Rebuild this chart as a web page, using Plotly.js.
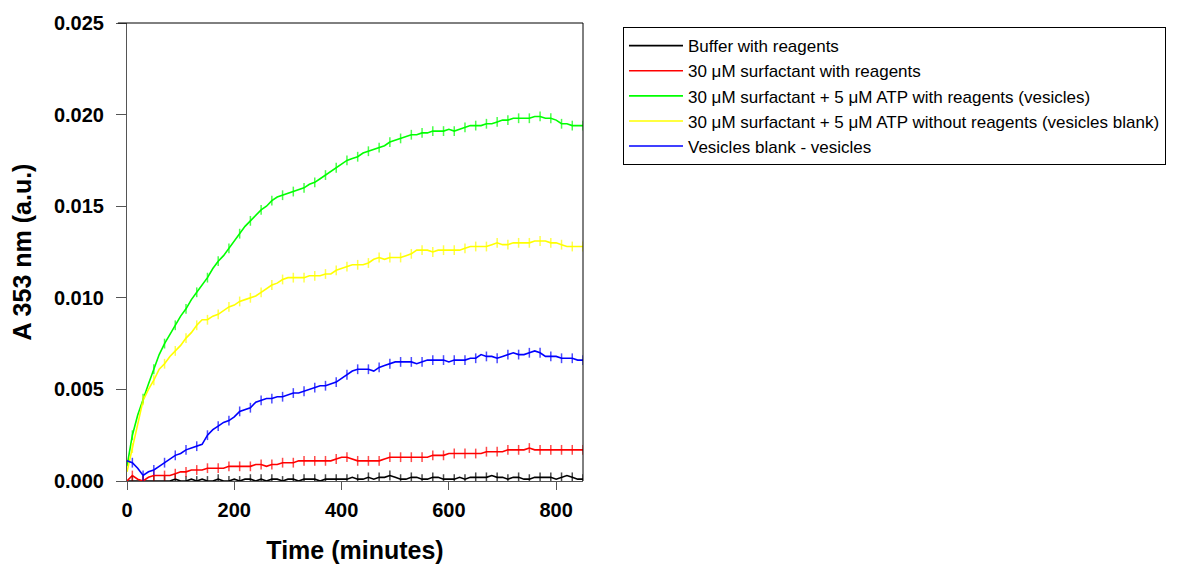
<!DOCTYPE html>
<html>
<head>
<meta charset="utf-8">
<script src="https://cdn.plot.ly/plotly-3.0.1.min.js"></script>
<style>html,body{margin:0;padding:0;background:#fff;}#chart{width:1188px;height:567px;}</style>
</head>
<body>
<div id="chart"></div>
<script>
const time = [0,10,20,30,40,50,60,70,80,90,100,110,120,130,140,150,160,170,180,190,200,210,220,230,240,250,260,270,280,290,300,310,320,330,340,350,360,370,380,390,400,410,420,430,440,450,460,470,480,490,500,510,520,530,540,550,560,570,580,590,600,610,620,630,640,650,660,670,680,690,700,710,720,730,740,750,760,770,780,790,800,810,820,830,840,850];

const seriesNames = [
  "Buffer with reagents",
  "30 \u03bcM surfactant with reagents",
  "30 \u03bcM surfactant + 5 \u03bcM ATP with reagents (vesicles)",
  "30 \u03bcM surfactant + 5 \u03bcM ATP without reagents (vesicles blank)",
  "Vesicles blank - vesicles"
];
const seriesColors = ["#000000","#ff0000","#00ff00","#ffff00","#0000ff"];

const buffer = [0.0000,0.0000,0.0000,0.0000,0.0000,0.0000,0.0000,0.0000,0.0000,0.0001,0.0000,0.0000,0.0001,0.0000,0.0001,0.0000,0.0000,0.0001,0.0000,0.0000,0.0001,0.0000,0.0001,0.0001,0.0000,0.0001,0.0000,0.0001,0.0001,0.0000,0.0001,0.0001,0.0000,0.0001,0.0001,0.0001,0.0000,0.0001,0.0001,0.0001,0.0001,0.0001,0.0002,0.0001,0.0001,0.0002,0.0001,0.0002,0.0002,0.0003,0.0002,0.0001,0.0001,0.0002,0.0002,0.0001,0.0001,0.0002,0.0002,0.0001,0.0001,0.0001,0.0002,0.0001,0.0002,0.0002,0.0002,0.0002,0.0003,0.0002,0.0002,0.0001,0.0002,0.0002,0.0001,0.0001,0.0002,0.0002,0.0002,0.0002,0.0001,0.0002,0.0003,0.0002,0.0001,0.0001];

const surfactant = [0.0000,0.0003,0.0001,0.0000,0.0002,0.0003,0.0003,0.0003,0.0003,0.0004,0.0005,0.0005,0.0006,0.0006,0.0006,0.0007,0.0007,0.0007,0.0007,0.0008,0.0008,0.0008,0.0008,0.0008,0.0009,0.0009,0.0008,0.0009,0.0009,0.0010,0.0010,0.0010,0.0011,0.0011,0.0011,0.0011,0.0011,0.0011,0.0011,0.0012,0.0013,0.0013,0.0012,0.0011,0.0011,0.0011,0.0011,0.0011,0.0012,0.0013,0.0013,0.0013,0.0013,0.0013,0.0013,0.0013,0.0013,0.0014,0.0014,0.0014,0.0015,0.0015,0.0015,0.0015,0.0015,0.0015,0.0015,0.0016,0.0016,0.0016,0.0016,0.0017,0.0017,0.0017,0.0017,0.0018,0.0017,0.0017,0.0017,0.0017,0.0017,0.0017,0.0017,0.0017,0.0017,0.0017];

const vesicles = [0.0008,0.0025,0.0036,0.0045,0.0053,0.0061,0.0069,0.0075,0.0080,0.0085,0.0090,0.0094,0.0099,0.0103,0.0107,0.0111,0.0116,0.0120,0.0123,0.0127,0.0131,0.0135,0.0139,0.0142,0.0145,0.0148,0.0150,0.0153,0.0155,0.0156,0.0157,0.0158,0.0159,0.0160,0.0162,0.0163,0.0165,0.0167,0.0169,0.0171,0.0173,0.0175,0.0176,0.0177,0.0179,0.0180,0.0181,0.0182,0.0183,0.0185,0.0186,0.0187,0.0188,0.0189,0.0189,0.0190,0.0190,0.0191,0.0191,0.0191,0.0192,0.0191,0.0192,0.0193,0.0194,0.0194,0.0194,0.0195,0.0195,0.0196,0.0197,0.0197,0.0198,0.0198,0.0198,0.0198,0.0199,0.0199,0.0198,0.0198,0.0197,0.0195,0.0195,0.0194,0.0194,0.0194];

const vesiclesBlank = [0.0005,0.0018,0.0032,0.0044,0.0050,0.0055,0.0061,0.0064,0.0068,0.0071,0.0074,0.0078,0.0081,0.0085,0.0088,0.0088,0.0090,0.0091,0.0093,0.0095,0.0096,0.0098,0.0099,0.0100,0.0101,0.0103,0.0105,0.0107,0.0108,0.0110,0.0111,0.0111,0.0111,0.0111,0.0112,0.0112,0.0112,0.0113,0.0113,0.0115,0.0116,0.0117,0.0118,0.0118,0.0118,0.0119,0.0121,0.0122,0.0121,0.0122,0.0122,0.0122,0.0123,0.0124,0.0126,0.0126,0.0126,0.0125,0.0126,0.0126,0.0126,0.0126,0.0126,0.0127,0.0128,0.0128,0.0128,0.0128,0.0129,0.0130,0.0129,0.0129,0.0130,0.0130,0.0130,0.0130,0.0131,0.0131,0.0131,0.0130,0.0130,0.0129,0.0128,0.0128,0.0128,0.0128];

const difference = [0.0011,0.0010,0.0007,0.0003,0.0005,0.0006,0.0008,0.0010,0.0012,0.0014,0.0015,0.0017,0.0018,0.0019,0.0020,0.0025,0.0028,0.0030,0.0032,0.0033,0.0035,0.0038,0.0039,0.0040,0.0043,0.0044,0.0045,0.0045,0.0046,0.0046,0.0047,0.0048,0.0048,0.0049,0.0050,0.0051,0.0052,0.0052,0.0053,0.0054,0.0056,0.0058,0.0060,0.0061,0.0061,0.0061,0.0060,0.0062,0.0063,0.0064,0.0065,0.0065,0.0065,0.0065,0.0064,0.0065,0.0066,0.0066,0.0066,0.0066,0.0065,0.0066,0.0066,0.0066,0.0067,0.0067,0.0069,0.0068,0.0068,0.0067,0.0068,0.0069,0.0070,0.0069,0.0069,0.0070,0.0071,0.0070,0.0068,0.0068,0.0068,0.0067,0.0067,0.0067,0.0066,0.0066];

const xTicks = [0,200,400,600,800];
const yTicks = [0,0.005,0.010,0.015,0.020,0.025];

const allSeries = [buffer, surfactant, vesicles, vesiclesBlank, difference];
const traces = [];
allSeries.forEach((ys, i) => {
  traces.push({
    x: time, y: ys, type: 'scatter', mode: 'lines',
    name: seriesNames[i], legendgroup: 'g' + i,
    line: {color: seriesColors[i], width: 1.6},
    cliponaxis: true
  });
});
// small vertical tick marks along each curve (noise spikes look)
allSeries.forEach((ys, i) => {
  traces.push({
    x: time, y: ys, type: 'scatter', mode: 'markers',
    name: seriesNames[i], legendgroup: 'g' + i, showlegend: false,
    marker: {symbol: 'line-ns', size: time.map((t, k) => (k % 2 === 1 ? 7 : 0)),
             line: {color: seriesColors[i], width: 1.5}, color: seriesColors[i]},
    cliponaxis: true, hoverinfo: 'skip'
  });
});

const fontFam = 'Arial, "Liberation Sans", sans-serif';
const layout = {
  width: 1188, height: 567,
  margin: {l: 127, r: 605, t: 23, b: 86, autoexpand: false},
  paper_bgcolor: '#ffffff', plot_bgcolor: '#ffffff',
  showlegend: true,
  legend: {
    x: 1.0877, y: 0.991, xanchor: 'left', yanchor: 'top',
    bgcolor: '#ffffff', bordercolor: '#000000', borderwidth: 1,
    font: {family: fontFam, size: 17, color: '#000'},
    itemwidth: 54,
    tracegroupgap: 0
  },
  xaxis: {
    range: [0, 850], tickvals: xTicks, ticktext: xTicks.map(String),
    showgrid: false, zeroline: false, showline: true, linecolor: '#555', linewidth: 1,
    ticks: 'outside', ticklen: 8, tickcolor: '#555',
    tickfont: {family: fontFam, size: 20, color: '#000', weight: 'bold'},
    ticklabelstandoff: 3,
    title: {text: 'Time (minutes)', font: {family: fontFam, size: 25, color: '#000', weight: 'bold'}, standoff: 21}
  },
  yaxis: {
    range: [0, 0.025], tickvals: yTicks, ticktext: yTicks.map(v => v.toFixed(3)),
    showgrid: false, zeroline: false, showline: true, linecolor: '#555', linewidth: 1,
    ticks: 'outside', ticklen: 10, tickcolor: '#555',
    tickfont: {family: fontFam, size: 20, color: '#000', weight: 'bold'},
    ticklabelstandoff: 8,
    title: {text: 'A 353 nm (a.u.)', font: {family: fontFam, size: 25, color: '#000', weight: 'bold'}, standoff: 15}
  },
  shapes: [
    {type: 'line', xref: 'paper', yref: 'paper', x0: -0.02, x1: 1, y0: 1, y1: 1, line: {color: '#000', width: 1}},
    {type: 'line', xref: 'paper', yref: 'paper', x0: 1, x1: 1, y0: 0, y1: 1, line: {color: '#000', width: 1}}
  ]
};

Plotly.newPlot('chart', traces, layout, {displayModeBar: false, staticPlot: true});
</script>
</body>
</html>
